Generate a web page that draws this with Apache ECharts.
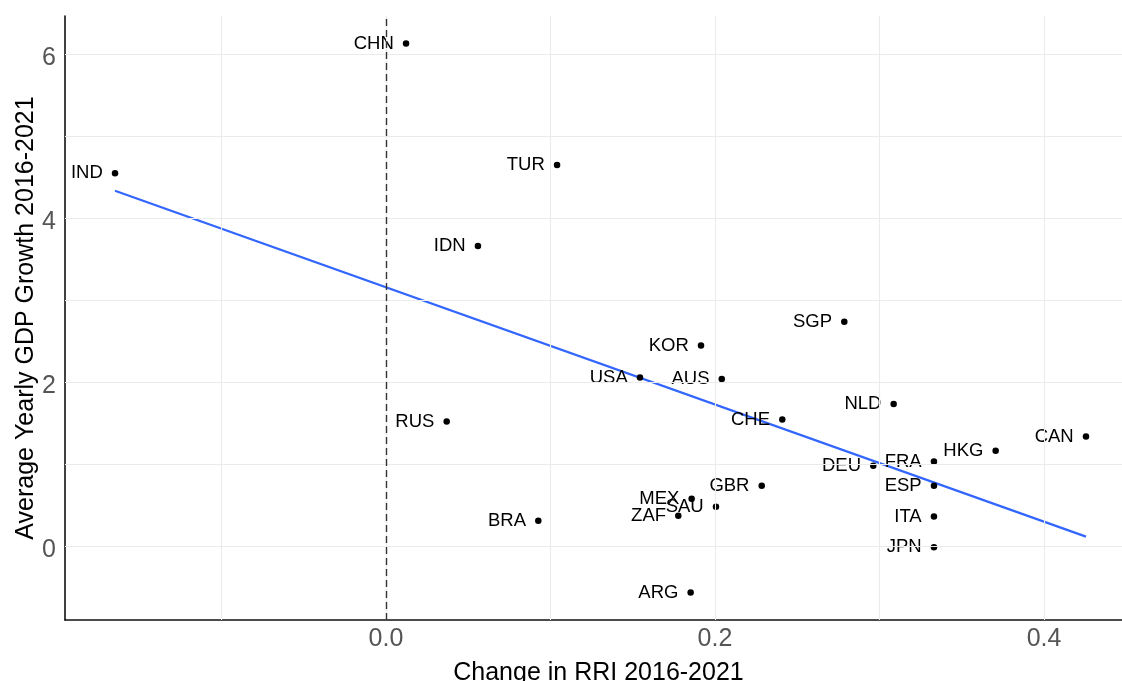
<!DOCTYPE html>
<html>
<head>
<meta charset="utf-8">
<script src="https://cdn.jsdelivr.net/npm/echarts@6/dist/echarts.min.js"></script>
<style>
  html, body { margin: 0; padding: 0; background: #ffffff; }
  #chart { width: 1122px; height: 681px; }
</style>
</head>
<body>
<div id="chart"></div>
<script>
// Country codes and their values
const countries = ['CHN', 'IND', 'TUR', 'IDN', 'SGP', 'KOR', 'USA', 'AUS', 'RUS', 'CHE', 'GBR', 'MEX',
                   'SAU', 'ZAF', 'BRA', 'ARG', 'NLD', 'CAN', 'HKG', 'FRA', 'DEU', 'ESP', 'ITA', 'JPN'];
// Change in RRI 2016-2021
const rriChange = [0.0122, -0.1647, 0.1040, 0.0559, 0.2786, 0.1915, 0.1544, 0.2041, 0.0369, 0.2409, 0.2284, 0.1858,
                   0.2006, 0.1777, 0.0926, 0.1852, 0.3086, 0.4255, 0.3706, 0.3331, 0.2962, 0.3331, 0.3331, 0.3331];
// Average yearly GDP growth 2016-2021
const gdpGrowth = [6.13, 4.545, 4.646, 3.66, 2.735, 2.443, 2.053, 2.037, 1.516, 1.54, 0.732, 0.573,
                   0.476, 0.366, 0.305, -0.57, 1.732, 1.333, 1.159, 1.028, 0.976, 0.732, 0.357, -0.016];

// Fitted linear trend, end points
const fitX = [-0.1647, 0.4255];
const fitY = [4.333, 0.113];

// Axis ticks and grid lines
const xTickLabels = [0.0, 0.2, 0.4];
const yTickLabels = [0, 2, 4, 6];
const xGridLines = [-0.1, 0.0, 0.1, 0.2, 0.3, 0.4];
const yGridLines = [0, 1, 2, 3, 4, 5, 6];

const points = countries.map((c, i) => ({ name: c, value: [rriChange[i], gdpGrowth[i]] }));
const fitLine = fitX.map((x, i) => [x, fitY[i]]);

const FONT = 'Liberation Sans, Arial, Helvetica, sans-serif';
const chart = echarts.init(document.getElementById('chart'), null, { renderer: 'canvas' });

chart.setOption({
  animation: false,
  backgroundColor: '#ffffff',
  grid: { left: 65, right: 0, top: 16, bottom: 61, containLabel: false, outerBoundsMode: 'none' },
  xAxis: {
    type: 'value',
    min: -0.1951,
    max: 0.4474,
    name: 'Change in RRI 2016-2021',
    nameLocation: 'middle',
    nameGap: 41,
    nameMoveOverlap: false,
    nameTextStyle: { fontFamily: FONT, fontSize: 25, color: '#000000', padding: [0, 0, 0, 10] },
    axisLine: { show: true, onZero: false, lineStyle: { color: '#111111', width: 1.6 } },
    axisTick: { show: false },
    splitLine: { show: false },
    axisLabel: {
      customValues: xTickLabels,
      formatter: v => Number(v).toFixed(1),
      fontFamily: FONT, fontSize: 25, color: '#555555', margin: 7
    }
  },
  yAxis: {
    type: 'value',
    min: -0.905,
    max: 6.465,
    name: 'Average Yearly GDP Growth 2016-2021',
    nameLocation: 'middle',
    nameRotate: 90,
    nameGap: 26,
    nameMoveOverlap: false,
    nameTextStyle: { fontFamily: FONT, fontSize: 25, color: '#000000' },
    axisLine: { show: true, onZero: false, lineStyle: { color: '#111111', width: 1.6 } },
    axisTick: { show: false },
    splitLine: { show: false },
    axisLabel: {
      customValues: yTickLabels,
      formatter: v => String(v),
      fontFamily: FONT, fontSize: 25, color: '#555555', margin: 9,
      verticalAlign: 'top',
      lineHeight: 8
    }
  },
  series: [
    {
      // panel grid lines
      type: 'line',
      data: [],
      silent: true,
      z: 0,
      markLine: {
        silent: true,
        symbol: 'none',
        label: { show: false },
        lineStyle: { color: '#ebebeb', width: 1.1, type: 'solid' },
        data: xGridLines.map(v => ({ xAxis: v })).concat(yGridLines.map(v => ({ yAxis: v })))
      }
    },
    {
      // reference line at zero change
      type: 'line',
      data: [],
      silent: true,
      z: 1,
      markLine: {
        silent: true,
        symbol: 'none',
        label: { show: false },
        lineStyle: { color: '#333333', width: 1.4, type: [7, 4] },
        data: [{ xAxis: 0 }]
      }
    },
    {
      type: 'line',
      data: fitLine,
      showSymbol: false,
      z: 2,
      lineStyle: { color: '#3366FF', width: 2.3 }
    },
    {
      type: 'scatter',
      data: points,
      symbol: 'circle',
      symbolSize: 6.5,
      z: 3,
      itemStyle: { color: '#000000', opacity: 1 },
      label: {
        show: true,
        position: 'left',
        distance: 9,
        formatter: p => p.name,
        fontFamily: FONT,
        fontSize: 18.5,
        color: '#000000'
      }
    }
  ]
});
</script>
</body>
</html>
